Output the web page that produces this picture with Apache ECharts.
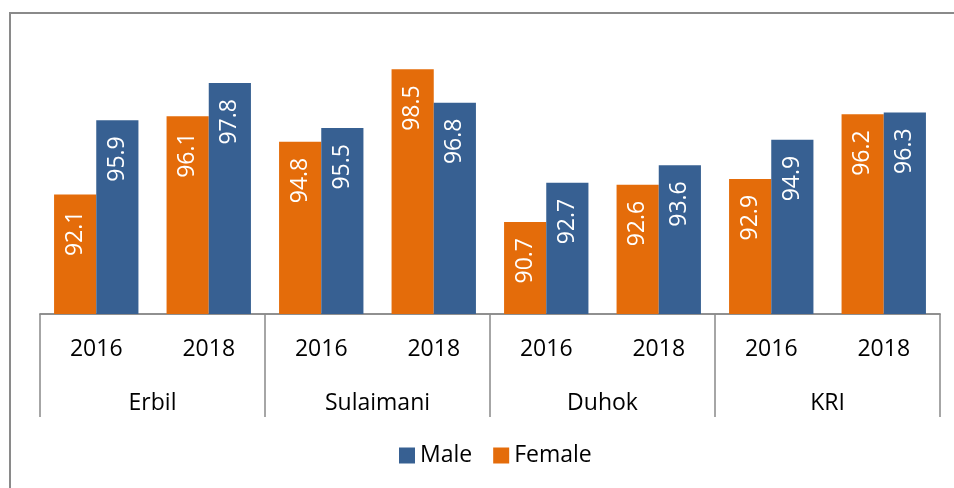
<!DOCTYPE html>
<html>
<head>
<meta charset="utf-8">
<script src="https://cdn.jsdelivr.net/npm/echarts@6/dist/echarts.min.js"></script>
<style>
  html, body { margin: 0; padding: 0; background: #fff; }
  #chart { width: 954px; height: 488px; }
</style>
</head>
<body>
<div id="chart"></div>
<script>
// data
const years = ['2016', '2018', '2016', '2018', '2016', '2018', '2016', '2018'];
const regions = ['Erbil', 'Sulaimani', 'Duhok', 'KRI'];
const female = [92.1, 96.1, 94.8, 98.5, 90.7, 92.6, 92.9, 96.2];
const male = [95.9, 97.8, 95.5, 96.8, 92.7, 93.6, 94.9, 96.3];

const FONT = 'Open Sans';
const axisGray = '#898989';

const chart = echarts.init(document.getElementById('chart'));

const barLabel = {
  show: true,
  position: 'insideTop',
  distance: 16,
  rotate: 90,
  align: 'right',
  verticalAlign: 'middle',
  color: '#ffffff',
  fontFamily: FONT,
  fontSize: 23,
  formatter: p => p.value.toFixed(1)
};

chart.setOption({
  animation: false,
  backgroundColor: '#ffffff',
  graphic: [{
    type: 'rect',
    shape: { x: 10, y: 13, width: 960, height: 500 },
    style: { fill: 'none', stroke: '#8a8a8a', lineWidth: 2 },
    silent: true
  }],
  legend: {
    data: ['Male', 'Female'],
    left: 394,
    top: 439,
    itemWidth: 16,
    itemHeight: 16,
    itemGap: 21,
    icon: 'rect',
    textStyle: { fontFamily: FONT, fontSize: 23, color: '#000' }
  },
  grid: { left: 40, right: 14, top: 40, bottom: 174 },
  xAxis: [
    {
      type: 'category',
      data: years,
      position: 'bottom',
      axisLine: { show: true, lineStyle: { color: axisGray, width: 1.5 } },
      axisTick: { show: false },
      axisLabel: { margin: 24, fontFamily: FONT, fontSize: 23, color: '#000' }
    },
    {
      type: 'category',
      data: regions,
      position: 'bottom',
      axisLine: { show: true, lineStyle: { color: axisGray, width: 1.5 } },
      axisTick: { show: true, length: 103, lineStyle: { color: axisGray, width: 1.5 } },
      axisLabel: { margin: 78, fontFamily: FONT, fontSize: 23, color: '#000' }
    }
  ],
  yAxis: {
    type: 'value',
    min: 86,
    max: 100,
    show: false,
    splitLine: { show: false }
  },
  series: [
    {
      name: 'Female',
      type: 'bar',
      xAxisIndex: 0,
      data: female,
      barGap: '0%',
      barCategoryGap: '25%',
      itemStyle: { color: '#E46C0A' },
      label: barLabel
    },
    {
      name: 'Male',
      type: 'bar',
      xAxisIndex: 0,
      data: male,
      barGap: '0%',
      barCategoryGap: '25%',
      itemStyle: { color: '#376092' },
      label: barLabel
    }
  ]
});
</script>
</body>
</html>
